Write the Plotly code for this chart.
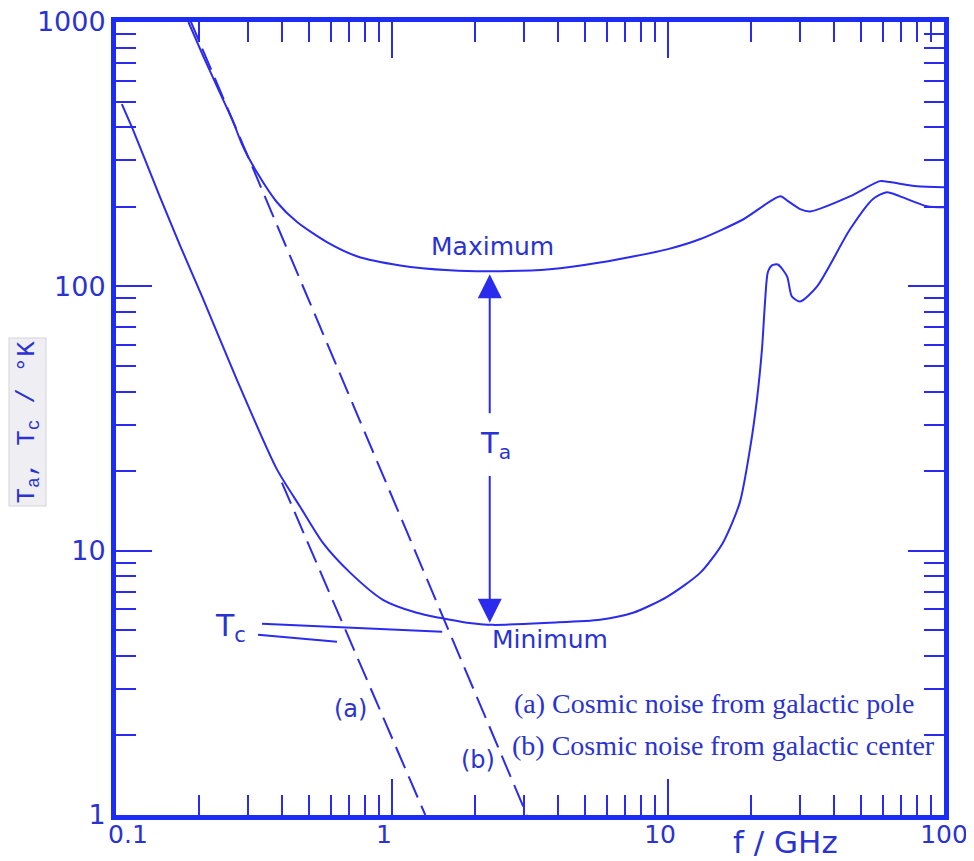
import numpy as np
import plotly.graph_objects as go

# ---------------- data ----------------
freq_max = [0.183, 0.207, 0.232, 0.266, 0.288, 0.324, 0.383, 0.453, 0.581, 0.746,
            1.07, 1.62, 2.26, 3.73, 5.67, 9.92, 13.1, 18.7, 25.5, 27.2, 30.1, 32.7,
            45.6, 58.6, 63.7, 79.8, 100]
temp_max = [1000, 743, 572, 418, 339, 270, 208, 175, 147, 130,
            120, 115, 114, 116, 123, 138, 151, 179, 219, 210, 196, 192,
            219, 250, 248, 239, 237]

freq_min = [0.105, 0.115, 0.144, 0.171, 0.205, 0.274, 0.383, 0.464, 0.562, 0.705,
            0.927, 1.23, 1.49, 1.87, 2.32, 3.73, 5.67, 7.47, 9.92, 13.1, 15.8,
            18.2, 19.8, 21.0, 21.9, 22.5, 23.0, 23.8, 25.0, 27.0, 28.1, 30.1,
            34.7, 45.6, 55.3, 62.1, 69.3, 86.7, 100]
temp_min = [489, 393, 219, 142, 91.6, 44.4, 20.3, 14.7, 10.7, 8.26,
            6.52, 5.82, 5.57, 5.34, 5.24, 5.34, 5.48, 5.82, 6.69, 8.26, 10.7,
            15.2, 24.1, 37.3, 57.7, 89.3, 113, 120, 121, 109, 91.6, 87.7,
            100, 164, 214, 227, 219, 201, 199]

# (a) cosmic noise from galactic pole, (b) from galactic center (dashed parts)
freq_a = [0.399, 1.32]
temp_a = [18.1, 1.0]
freq_b = [0.185, 3.08]
temp_b = [1026, 1.0]

# T_c leader lines
tc_upper_f = [0.338, 1.52]
tc_upper_t = [5.29, 4.93]
tc_lower_f = [0.327, 0.632]
tc_lower_t = [4.81, 4.52]

NB = "\u00a0"
x_tickvals = [0.1, 1, 10, 100]
x_ticktext = [NB * 3 + "0.1", "1" + NB * 2, "10" + NB * 2, "100"]
y_tickvals = [1, 10, 100, 1000]
y_ticktext = ["1", "10", "100", "1000"]
minor_vals = [m * 10.0 ** e for e in range(-1, 3) for m in range(2, 10)]

# ---------------- styling ----------------
LINE = "#2b2bee"
BORDER = "#1a2cf5"
TXT = "#2a33d2"
SANS = "DejaVu Sans"

fig = go.Figure()

fig.add_trace(go.Scatter(x=freq_max, y=temp_max, mode="lines",
                         line=dict(color=LINE, width=2, shape="spline", smoothing=0.7),
                         hoverinfo="skip"))
fig.add_trace(go.Scatter(x=freq_min, y=temp_min, mode="lines",
                         line=dict(color=LINE, width=2, shape="spline", smoothing=0.7),
                         hoverinfo="skip"))
fig.add_trace(go.Scatter(x=freq_a, y=temp_a, mode="lines",
                         line=dict(color=LINE, width=2, dash="23px,9px"),
                         hoverinfo="skip"))
fig.add_trace(go.Scatter(x=freq_b, y=temp_b, mode="lines",
                         line=dict(color=LINE, width=2, dash="23px,9px"),
                         hoverinfo="skip"))
fig.add_trace(go.Scatter(x=tc_upper_f, y=tc_upper_t, mode="lines",
                         line=dict(color=LINE, width=2), hoverinfo="skip"))
fig.add_trace(go.Scatter(x=tc_lower_f, y=tc_lower_t, mode="lines",
                         line=dict(color=LINE, width=2), hoverinfo="skip"))

axis_common = dict(
    type="log", showgrid=False, zeroline=False, automargin=False,
    ticklabeloverflow="allow",
    showline=True, linewidth=5, linecolor=BORDER, mirror="ticks",
    ticks="inside", ticklen=36, tickwidth=2, tickcolor=LINE,
    minor=dict(ticks="inside", ticklen=20, tickwidth=2, tickcolor=LINE,
               tickvals=minor_vals, showgrid=False),
)

fig.update_xaxes(range=[-1, 2], tickvals=x_tickvals, ticktext=x_ticktext,
                 tickfont=dict(family=SANS, size=25, color=TXT),
                 ticklabelstandoff=-7, **axis_common)
fig.update_yaxes(range=[0, 3], tickvals=y_tickvals, ticktext=y_ticktext,
                 tickfont=dict(family=SANS, size=27, color=TXT),
                 ticklabelstandoff=0, **axis_common)

L = np.log10
ann = []
# double arrow T_a (two halves around the label)
ann.append(dict(x=L(2.26), y=L(111), ax=L(2.26), ay=L(32.7), xref="x", yref="y",
                axref="x", ayref="y", text="", showarrow=True, arrowhead=2,
                arrowsize=2.4, arrowwidth=2, arrowcolor=LINE, standoff=0))
ann.append(dict(x=L(2.26), y=L(5.34), ax=L(2.26), ay=L(19.4), xref="x", yref="y",
                axref="x", ayref="y", text="", showarrow=True, arrowhead=2,
                arrowsize=2.4, arrowwidth=2, arrowcolor=LINE, standoff=0))
ann.append(dict(x=L(2.38), y=L(25.2), xref="x", yref="y", text="T<sub>a</sub>",
                showarrow=False, font=dict(family=SANS, size=29, color=TXT)))
ann.append(dict(x=L(2.32), y=L(142), xref="x", yref="y", text="Maximum",
                showarrow=False, font=dict(family=SANS, size=25, color=TXT)))
ann.append(dict(x=L(3.73), y=L(4.6), xref="x", yref="y", text="Minimum",
                showarrow=False, font=dict(family=SANS, size=25, color=TXT)))
ann.append(dict(x=L(0.259), y=L(5.1), xref="x", yref="y", text="T<sub>c</sub>",
                showarrow=False, font=dict(family=SANS, size=30, color=TXT)))
ann.append(dict(x=L(0.710), y=L(2.52), xref="x", yref="y", text="(a)",
                showarrow=False, font=dict(family=SANS, size=24, color=TXT)))
ann.append(dict(x=L(2.05), y=L(1.62), xref="x", yref="y", text="(b)",
                showarrow=False, font=dict(family=SANS, size=24, color=TXT)))
ann.append(dict(x=L(2.72), y=L(2.63), xref="x", yref="y", xanchor="left",
                text="(a) Cosmic noise from galactic pole", showarrow=False,
                font=dict(family="Liberation Serif", size=28, color=TXT)))
ann.append(dict(x=L(2.68), y=L(1.83), xref="x", yref="y", xanchor="left",
                text="(b) Cosmic noise from galactic center", showarrow=False,
                font=dict(family="Liberation Serif", size=28, color=TXT)))
# axis titles
ann.append(dict(x=(785 - 116) / 828, y=-(842 - 815) / 793, xref="paper", yref="paper",
                xanchor="center", yanchor="middle",
                text="f / GHz", showarrow=False,
                font=dict(family=SANS, size=31, color=TXT)))
ann.append(dict(x=(27.5 - 116) / 828, y=(815 - 422) / 793, xref="paper", yref="paper",
                xanchor="center", yanchor="middle",
                text="T<sub>a</sub>, T<sub>c</sub> / °K", textangle=-90, showarrow=False,
                bgcolor="#eeeef3", bordercolor="#d4d4dc", borderwidth=1, borderpad=2,
                font=dict(family="Liberation Mono", size=26, color=TXT)))

# the page body has an 8px margin, so the figure margins are reduced by 8px
# on the left/top to place the plot area at (116,22)-(944,815) in the window
fig.update_layout(
    width=974, height=861,
    margin=dict(l=108, r=38, t=14, b=54),
    paper_bgcolor="white", plot_bgcolor="white",
    showlegend=False, annotations=ann,
)

fig.write_html("out.html")
